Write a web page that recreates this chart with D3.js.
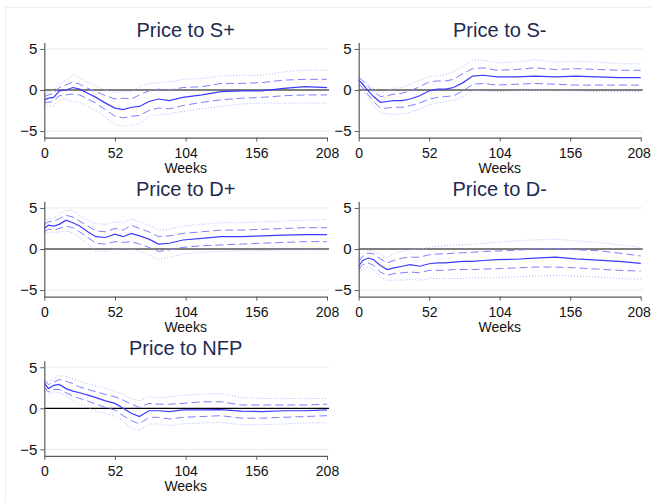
<!DOCTYPE html>
<html>
<head>
<meta charset="utf-8">
<script src="https://cdn.jsdelivr.net/npm/d3@7"></script>
<style>
  body { margin: 0; background: #fff; }
  svg { display: block; font-family: "Liberation Sans", Arial, sans-serif; }
</style>
</head>
<body>
<div id="chart"></div>
<script>
const weeks = [0, 3, 7, 11, 16, 21, 26, 32, 38, 45, 52, 58, 64, 70, 77, 84, 92, 102, 116, 130, 145, 160, 176, 192, 208];

const xTicks = [0, 52, 104, 156, 208];
const yTicks = [-5, 0, 5];

const titles = ['Price to S+', 'Price to S-', 'Price to D+', 'Price to D-', 'Price to NFP'];

// Price to S+
const spMid  = [-1.2, -1.0, -0.9, -0.1, 0.0, 0.3, 0.1, -0.4, -0.9, -1.6, -2.2, -2.4, -2.1, -2.0, -1.4, -1.1, -1.3, -0.9, -0.6, -0.2, -0.1, -0.1, 0.2, 0.4, 0.3];
const spHi68 = [-0.8, -0.6, -0.4, 0.3, 0.6, 1.0, 0.7, 0.2, -0.2, -0.7, -1.1, -1.0, -1.1, -0.6, -0.1, 0.1, 0.0, 0.3, 0.4, 0.8, 0.8, 0.9, 1.2, 1.3, 1.3];
const spLo68 = [-1.5, -1.5, -1.4, -0.7, -0.6, -0.5, -0.6, -1.1, -1.6, -2.4, -3.2, -3.4, -3.2, -3.1, -2.5, -2.2, -2.3, -1.9, -1.5, -1.2, -1.0, -0.9, -0.7, -0.6, -0.6];
const spHi95 = [-0.5, -0.2, 0.0, 0.7, 1.2, 1.8, 1.5, 0.9, 0.5, 0.0, -0.3, -0.2, -0.2, 0.4, 0.8, 0.9, 1.0, 1.3, 1.4, 1.7, 1.8, 1.8, 2.2, 2.4, 2.4];
const spLo95 = [-1.8, -2.0, -1.9, -1.2, -1.1, -1.4, -1.5, -2.0, -2.5, -3.3, -4.2, -4.4, -4.3, -4.1, -3.2, -3.0, -2.9, -2.6, -2.3, -2.0, -1.7, -1.6, -1.6, -1.6, -1.6];

// Price to S-
const smMid  = [1.2, 0.7, -0.1, -0.8, -1.5, -1.4, -1.3, -1.3, -1.1, -0.7, -0.1, 0.1, 0.1, 0.3, 0.9, 1.7, 1.8, 1.6, 1.6, 1.7, 1.6, 1.7, 1.6, 1.5, 1.5];
const smHi68 = [1.5, 1.1, 0.4, -0.2, -0.8, -0.7, -0.5, -0.4, -0.1, 0.4, 1.0, 1.1, 1.1, 1.3, 2.0, 2.6, 2.7, 2.4, 2.5, 2.7, 2.5, 2.6, 2.5, 2.4, 2.4];
const smLo68 = [0.7, 0.3, -0.6, -1.4, -2.2, -2.2, -2.1, -2.1, -1.9, -1.6, -1.1, -0.9, -0.8, -0.7, -0.1, 0.7, 0.8, 0.6, 0.7, 0.8, 0.7, 0.6, 0.6, 0.6, 0.6];
const smHi95 = [1.6, 1.3, 0.7, 0.2, -0.4, -0.1, 0.2, 0.3, 0.7, 1.2, 1.6, 1.7, 1.9, 2.2, 2.9, 3.7, 3.6, 3.3, 3.4, 3.7, 3.4, 3.5, 3.4, 3.2, 3.2];
const smLo95 = [0.5, 0.0, -1.0, -1.9, -2.8, -2.9, -3.0, -2.9, -2.7, -2.3, -1.8, -1.6, -1.4, -1.3, -0.8, -0.1, -0.1, -0.2, -0.1, 0.0, -0.1, -0.1, -0.2, -0.2, -0.2];

// Price to D+
const dpMid  = [2.5, 2.9, 2.8, 3.0, 3.5, 3.2, 2.8, 2.1, 1.5, 1.4, 1.8, 1.5, 1.9, 1.6, 1.2, 0.6, 0.7, 1.1, 1.3, 1.5, 1.5, 1.6, 1.7, 1.75, 1.75];
const dpHi68 = [3.0, 3.3, 3.4, 3.7, 4.1, 3.9, 3.4, 2.8, 2.2, 2.1, 2.5, 2.3, 2.9, 2.5, 2.1, 1.5, 1.6, 1.9, 2.1, 2.3, 2.3, 2.4, 2.5, 2.6, 2.6];
const dpLo68 = [2.1, 2.4, 2.3, 2.5, 2.8, 2.6, 2.1, 1.4, 0.7, 0.6, 0.9, 0.8, 0.9, 0.6, 0.2, -0.3, -0.1, 0.2, 0.4, 0.5, 0.6, 0.7, 0.8, 0.9, 0.9];
const dpHi95 = [3.3, 3.6, 3.8, 4.2, 4.7, 4.7, 4.1, 3.5, 3.1, 3.0, 3.3, 3.2, 3.7, 3.3, 2.9, 2.3, 2.4, 2.8, 3.0, 3.2, 3.2, 3.3, 3.4, 3.5, 3.6];
const dpLo95 = [1.9, 2.0, 2.0, 2.1, 2.2, 2.0, 1.4, 0.6, -0.2, -0.3, 0.0, 0.0, 0.0, -0.3, -0.7, -1.3, -1.0, -0.6, -0.4, -0.3, -0.2, -0.2, -0.1, -0.1, -0.1];

// Price to D-
const dmMid  = [-2.1, -1.4, -1.1, -1.3, -2.0, -2.5, -2.3, -2.1, -1.9, -2.1, -1.8, -1.7, -1.7, -1.6, -1.5, -1.5, -1.4, -1.3, -1.25, -1.1, -1.0, -1.2, -1.35, -1.5, -1.75];
const dmHi68 = [-1.6, -0.9, -0.5, -0.6, -1.2, -1.7, -1.4, -1.1, -1.0, -1.0, -0.7, -0.6, -0.6, -0.5, -0.45, -0.4, -0.3, -0.25, -0.15, 0.0, 0.05, -0.1, -0.2, -0.5, -0.85];
const dmLo68 = [-2.5, -1.9, -1.7, -2.0, -2.8, -3.2, -3.0, -2.9, -2.8, -2.9, -2.6, -2.6, -2.6, -2.5, -2.5, -2.5, -2.45, -2.4, -2.3, -2.2, -2.2, -2.3, -2.45, -2.6, -2.7];
const dmHi95 = [-1.3, -0.6, -0.2, -0.2, -0.7, -1.1, -0.6, -0.3, -0.1, 0.0, 0.2, 0.3, 0.4, 0.5, 0.5, 0.6, 0.7, 0.8, 1.0, 1.1, 1.2, 1.0, 0.8, 0.5, 0.2];
const dmLo95 = [-2.8, -2.4, -2.2, -2.5, -3.4, -3.9, -3.8, -3.8, -3.7, -3.8, -3.6, -3.6, -3.6, -3.6, -3.6, -3.5, -3.5, -3.5, -3.4, -3.3, -3.2, -3.3, -3.4, -3.6, -3.7];

// Price to NFP
const nfMid  = [3.1, 2.4, 2.8, 2.9, 2.4, 2.1, 1.9, 1.6, 1.3, 0.9, 0.6, 0.0, -0.6, -1.0, -0.3, -0.3, -0.4, -0.2, -0.2, -0.15, -0.35, -0.4, -0.3, -0.3, -0.2];
const nfHi68 = [3.4, 2.9, 3.2, 3.5, 3.3, 3.0, 2.6, 2.3, 2.0, 1.7, 1.4, 1.0, 0.5, 0.1, 0.6, 0.5, 0.5, 0.6, 0.8, 0.8, 0.4, 0.4, 0.4, 0.4, 0.5];
const nfLo68 = [2.6, 2.0, 2.3, 2.3, 1.9, 1.5, 1.2, 0.9, 0.5, 0.1, -0.2, -0.9, -1.5, -1.9, -1.1, -1.1, -1.3, -1.1, -1.0, -0.9, -1.2, -1.2, -1.1, -1.0, -0.9];
const nfHi95 = [3.5, 3.3, 3.6, 4.0, 3.9, 3.6, 3.3, 3.0, 2.7, 2.4, 2.1, 1.7, 1.2, 0.9, 1.4, 1.3, 1.4, 1.6, 1.7, 1.8, 1.3, 1.2, 1.2, 1.2, 1.2];
const nfLo95 = [2.3, 1.8, 2.0, 1.9, 1.5, 0.9, 0.5, 0.1, -0.3, -0.6, -0.9, -1.6, -2.4, -2.7, -1.9, -1.9, -2.1, -1.9, -1.8, -1.7, -2.0, -2.0, -1.9, -1.8, -1.75];

const panelData = [
    { mid: spMid, hi68: spHi68, lo68: spLo68, hi95: spHi95, lo95: spLo95 },
    { mid: smMid, hi68: smHi68, lo68: smLo68, hi95: smHi95, lo95: smLo95 },
    { mid: dpMid, hi68: dpHi68, lo68: dpLo68, hi95: dpHi95, lo95: dpLo95 },
    { mid: dmMid, hi68: dmHi68, lo68: dmLo68, hi95: dmHi95, lo95: dmLo95 },
    { mid: nfMid, hi68: nfHi68, lo68: nfLo68, hi95: nfHi95, lo95: nfLo95 }
];

const width = 651;
const height = 502;

const svg = d3.select('#chart')
    .append('svg')
    .attr('width', width)
    .attr('height', height);

// faint outer frame (only its top/left edges are in view)
svg.append('rect')
    .attr('x', 5.5)
    .attr('y', 7.5)
    .attr('width', 700)
    .attr('height', 600)
    .attr('fill', 'none')
    .attr('stroke', '#eeeeee');

// panel placement: columns give the x range, rows give the y of the zero line
const cols = [[44.3, 327], [358.7, 640.7]];
const rowZero = [90, 249, 408.3];
const halfSpan = 47.6; // pixels from zero to the ends of the y axis

const axisColor = '#5a5a5a';
const titleColor = '#1e2a50';

titles.forEach((title, i) => {
    const col = i % 2;
    const row = Math.floor(i / 2);
    const z = rowZero[row];

    const x = d3.scaleLinear()
        .domain([0, 208])
        .range(cols[col]);

    const y = d3.scaleLinear()
        .domain([-5.8, 5.8])
        .range([z + halfSpan, z - halfSpan]);

    const g = svg.append('g');
    const d = panelData[i];

    // Заголовок панели
    g.append('text')
        .attr('x', (cols[col][0] + cols[col][1]) / 2)
        .attr('y', z - 53)
        .attr('text-anchor', 'middle')
        .style('font-size', '20px')
        .style('fill', titleColor)
        .text(title);

    // Сетка на ±5
    g.selectAll('.grid')
        .data([-5, 5])
        .join('line')
        .attr('x1', x(0))
        .attr('x2', x(208) + 2)
        .attr('y1', v => y(v))
        .attr('y2', v => y(v))
        .attr('stroke', '#e9f0f0')
        .attr('stroke-width', 1.2);

    // Нулевая линия
    g.append('line')
        .attr('x1', x(0))
        .attr('x2', x(208) + 2)
        .attr('y1', y(0))
        .attr('y2', y(0))
        .attr('stroke', '#000')
        .attr('stroke-width', 1.2);

    const line = d3.line()
        .x((_, j) => x(weeks[j]))
        .y(v => y(v));

    // 95% полосы (точки)
    [d.hi95, d.lo95].forEach(s => {
        g.append('path')
            .datum(s)
            .attr('fill', 'none')
            .attr('stroke', '#b4b6ff')
            .attr('stroke-width', 1)
            .attr('stroke-dasharray', '1,2')
            .attr('d', line);
    });

    // 68% полосы (штрихи)
    [d.hi68, d.lo68].forEach(s => {
        g.append('path')
            .datum(s)
            .attr('fill', 'none')
            .attr('stroke', '#7c80ff')
            .attr('stroke-width', 1)
            .attr('stroke-dasharray', '8,4')
            .attr('d', line);
    });

    // Отклик
    g.append('path')
        .datum(d.mid)
        .attr('fill', 'none')
        .attr('stroke', '#3a3cff')
        .attr('stroke-width', 1.2)
        .attr('d', line);

    // Оси
    const yAxis = g.append('g')
        .attr('transform', `translate(${x(0)},0)`)
        .call(d3.axisLeft(y).tickValues(yTicks).tickSize(4).tickPadding(3).tickSizeOuter(0));

    const xAxis = g.append('g')
        .attr('transform', `translate(0,${z + halfSpan})`)
        .call(d3.axisBottom(x).tickValues(xTicks).tickSize(4).tickPadding(6).tickSizeOuter(0));

    [yAxis, xAxis].forEach(a => {
        a.select('.domain').attr('stroke', axisColor).attr('stroke-width', 1.2);
        a.selectAll('.tick line').attr('stroke', axisColor);
        a.selectAll('text')
            .style('fill', '#111')
            .style('font-family', '"Liberation Sans", Arial, sans-serif');
    });
    yAxis.selectAll('text').style('font-size', '15px');
    xAxis.selectAll('text').style('font-size', '14px');
    // keep the last label of the right column inside the window
    xAxis.selectAll('text').filter(v => v === 208).attr('dx', col === 1 ? -2 : 0);

    g.append('text')
        .attr('x', (cols[col][0] + cols[col][1]) / 2)
        .attr('y', z + 82.5)
        .attr('text-anchor', 'middle')
        .style('font-size', '14px')
        .style('fill', '#111')
        .text('Weeks');
});
</script>
</body>
</html>
